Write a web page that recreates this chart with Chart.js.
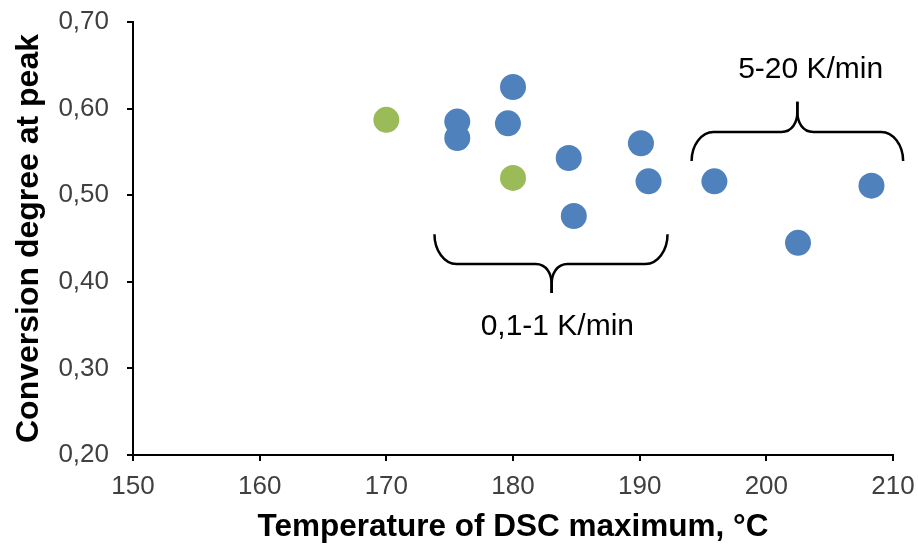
<!DOCTYPE html>
<html>
<head>
  <meta charset="utf-8">
  <title>Conversion degree at peak</title>
  <script src="https://cdn.jsdelivr.net/npm/chart.js"></script>
  <style>
    body {
      margin: 0;
      background: white;
    }
    #wrap {
      width: 918px;
      height: 544px;
    }
  </style>
</head>
<body>
  <div id="wrap">
    <canvas id="dscChart" width="918" height="544"></canvas>
  </div>

  <script>
    // values
    const blueTemp  = [175.6, 175.6, 179.6, 180.0, 184.4, 184.8, 190.1, 190.7, 195.9, 202.5, 208.3];
    const blueConv  = [0.585, 0.566, 0.583, 0.625, 0.543, 0.476, 0.560, 0.516, 0.516, 0.445, 0.511];
    const greenTemp = [170.0, 180.0];
    const greenConv = [0.587, 0.520];

    const xMin = 150, xMax = 210, xStep = 10;
    const yMin = 0.2, yMax = 0.7, yStep = 0.1;

    // curly braces, in data units
    const braceX1   = [173.8, 194.1];
    const braceX2   = [192.2, 210.8];
    const braceXMid = [183.05, 202.45];
    const braceYEnd = [0.455, 0.5395];
    const braceYBar = [0.4206, 0.573];
    const braceYTip = [0.387, 0.608];

    const noteText = ['0,1-1 K/min', '5-20 K/min'];
    const noteX    = [183.5, 203.5];
    const noteY    = [0.3478, 0.6446];

    const FONT = "'Liberation Sans', Arial, sans-serif";

    const toPoints = (xs, ys) => xs.map((x, i) => ({ x: x, y: ys[i] }));

    const bracePlugin = {
      id: 'braces',
      afterDatasetsDraw(chart) {
        const c = chart.ctx;
        const sx = chart.scales.x, sy = chart.scales.y;
        c.save();
        c.strokeStyle = '#000';
        c.lineWidth = 2.5;
        c.lineJoin = 'round';
        braceX1.forEach((_, i) => {
          const X1 = sx.getPixelForValue(braceX1[i]);
          const X2 = sx.getPixelForValue(braceX2[i]);
          const XM = sx.getPixelForValue(braceXMid[i]);
          const YE = sy.getPixelForValue(braceYEnd[i]);
          const YB = sy.getPixelForValue(braceYBar[i]);
          const YT = sy.getPixelForValue(braceYTip[i]);
          const dir = Math.sign(YT - YB);
          const r = 22;
          [[X1, 1], [X2, -1]].forEach(([XE, s]) => {
            c.beginPath();
            c.moveTo(XE, YE);
            c.bezierCurveTo(XE, YE + 0.55 * (YB - YE), XE + s * 0.45 * r, YB, XE + s * r, YB);
            c.lineTo(XM - s * 16, YB);
            c.bezierCurveTo(XM - s * 5, YB, XM, YB + dir * 10, XM, YB + dir * 20);
            c.lineTo(XM, YT);
            c.stroke();
          });
        });
        c.fillStyle = '#000';
        c.font = '30px ' + FONT;
        c.textAlign = 'center';
        c.textBaseline = 'middle';
        noteText.forEach((t, i) => {
          c.fillText(t, sx.getPixelForValue(noteX[i]), sy.getPixelForValue(noteY[i]));
        });
        c.restore();
      }
    };

    // fixed axis boxes, no extra label padding around the plot
    const fixBox = size => s => {
      if (s.isHorizontal()) s.height = size; else s.width = size;
      s.paddingTop = 0; s.paddingBottom = 0;
      s.paddingLeft = 0; s.paddingRight = 0;
    };

    const ctx = document.getElementById('dscChart').getContext('2d');
    const chart = new Chart(ctx, {
      type: 'scatter',
      data: {
        datasets: [
          {
            label: 'blue',
            data: toPoints(blueTemp, blueConv),
            backgroundColor: '#4F81BD',
            borderWidth: 0,
            pointRadius: 13,
            pointHoverRadius: 13
          },
          {
            label: 'green',
            data: toPoints(greenTemp, greenConv),
            backgroundColor: '#9BBB59',
            borderWidth: 0,
            pointRadius: 13,
            pointHoverRadius: 13
          }
        ]
      },
      options: {
        responsive: false,
        animation: false,
        layout: { padding: { top: 22, right: 25, left: 0, bottom: 0 } },
        plugins: {
          legend: { display: false },
          tooltip: { enabled: false }
        },
        scales: {
          x: {
            type: 'linear',
            min: xMin,
            max: xMax,
            afterFit: fixBox(89),
            ticks: {
              stepSize: xStep,
              padding: 10,
              color: '#404040',
              font: { family: FONT, size: 26 },
              callback: v => String(v)
            },
            grid: { drawOnChartArea: false, drawTicks: true, tickLength: 6, color: '#000', lineWidth: 2 },
            border: { display: true, color: '#000', width: 2 },
            title: {
              display: true,
              text: 'Temperature of DSC maximum, °C',
              color: '#000',
              padding: { top: 0, bottom: -2 },
              font: { family: FONT, size: 31.5, weight: 'bold' }
            }
          },
          y: {
            type: 'linear',
            min: yMin,
            max: yMax,
            afterFit: fixBox(133),
            ticks: {
              stepSize: yStep,
              padding: 18,
              color: '#404040',
              font: { family: FONT, size: 26 },
              callback: v => v.toFixed(2).replace('.', ',')
            },
            grid: { drawOnChartArea: false, drawTicks: true, tickLength: 6, color: '#000', lineWidth: 2 },
            border: { display: true, color: '#000', width: 2 },
            title: {
              display: true,
              text: 'Conversion degree at peak',
              color: '#000',
              padding: { top: 10, bottom: 0 },
              font: { family: FONT, size: 32, weight: 'bold' }
            }
          }
        }
      },
      plugins: [bracePlugin]
    });
  </script>
</body>
</html>
